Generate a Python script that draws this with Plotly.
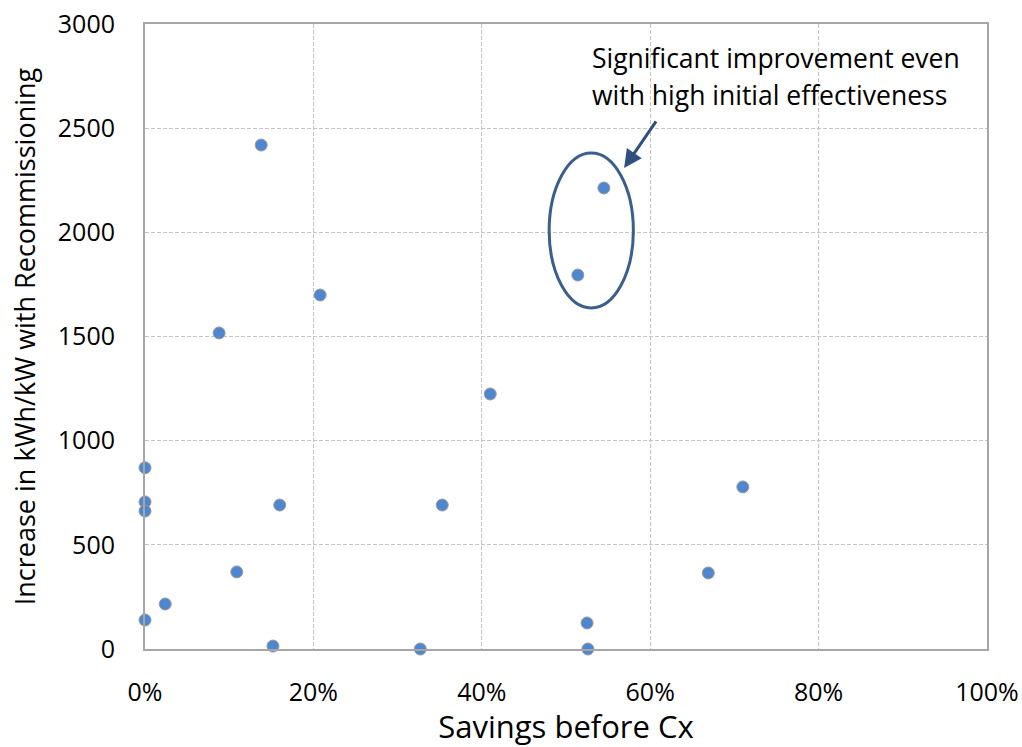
import plotly.graph_objects as go

savings_before_cx = [0.0, 0.0, 0.0, 0.0, 0.024, 0.109, 0.088, 0.138, 0.152, 0.160,
                     0.208, 0.327, 0.353, 0.410, 0.514, 0.545, 0.525, 0.526, 0.669, 0.710]
increase_kwh_kw = [870, 706, 662, 139, 216, 370, 1517, 2419, 14, 691,
                   1699, 0, 691, 1224, 1795, 2213, 125, 0, 365, 778]

x_tickvals = [0, 0.2, 0.4, 0.6, 0.8, 1.0]
x_ticktext = ["0%", "20%", "40%", "60%", "80%", "100%"]
y_tickvals = [0, 500, 1000, 1500, 2000, 2500, 3000]

note_lines = ["Significant improvement even", "with high initial effectiveness"]

font_family = "Open Sans, Liberation Sans, sans-serif"

fig = go.Figure()
fig.add_trace(go.Scatter(
    x=savings_before_cx, y=increase_kwh_kw, mode="markers",
    marker=dict(size=12, color="#4F86D0", line=dict(color="#9A9A9A", width=1)),
    cliponaxis=False, showlegend=False,
))

fig.update_layout(
    width=1022, height=747,
    margin=dict(l=145, r=35, t=24, b=98, autoexpand=False),
    plot_bgcolor="white", paper_bgcolor="white",
    font=dict(family=font_family, color="black"),
    xaxis=dict(
        range=[0, 1], tickvals=x_tickvals, ticktext=x_ticktext,
        showgrid=True, gridcolor="#C4C4C4", griddash="4px,2px", gridwidth=1,
        showline=True, linecolor="#A6A6A6", linewidth=2, mirror=True,
        zeroline=False, tickfont=dict(size=25), ticklabelstandoff=20,
        ticklabeloverflow="allow", automargin=False,
        title=dict(text="Savings before Cx", font=dict(size=31), standoff=4),
    ),
    yaxis=dict(
        range=[0, 3000], tickvals=y_tickvals,
        showgrid=True, gridcolor="#C4C4C4", griddash="4px,2px", gridwidth=1,
        showline=True, linecolor="#A6A6A6", linewidth=2, mirror=True,
        zeroline=False, tickfont=dict(size=25), ticklabelstandoff=23,
        ticklabeloverflow="allow", automargin=False,
        title=dict(text="Increase in kWh/kW with Recommissioning", font=dict(size=27), standoff=14),
    ),
)

fig.add_shape(type="circle", xref="x", yref="y",
              x0=0.480, x1=0.580, y0=1637, y1=2381,
              line=dict(color="#3B5F8C", width=3))

fig.add_annotation(x=0.569, y=2309, xref="x", yref="y",
                   ax=33, ay=-48, axref="pixel", ayref="pixel",
                   showarrow=True, arrowhead=2, arrowsize=1.2, arrowwidth=3,
                   arrowcolor="#2F4F7F", text="")

for line_text, y_pos in zip(note_lines, [2837, 2659]):
    fig.add_annotation(x=0.529, y=y_pos, xref="x", yref="y",
                       xanchor="left", yanchor="middle", align="left",
                       text=line_text, showarrow=False,
                       font=dict(size=26.5, color="black"))

fig.write_html("out.html", config={"displayModeBar": False},
               post_script="document.body.style.margin='0';")
